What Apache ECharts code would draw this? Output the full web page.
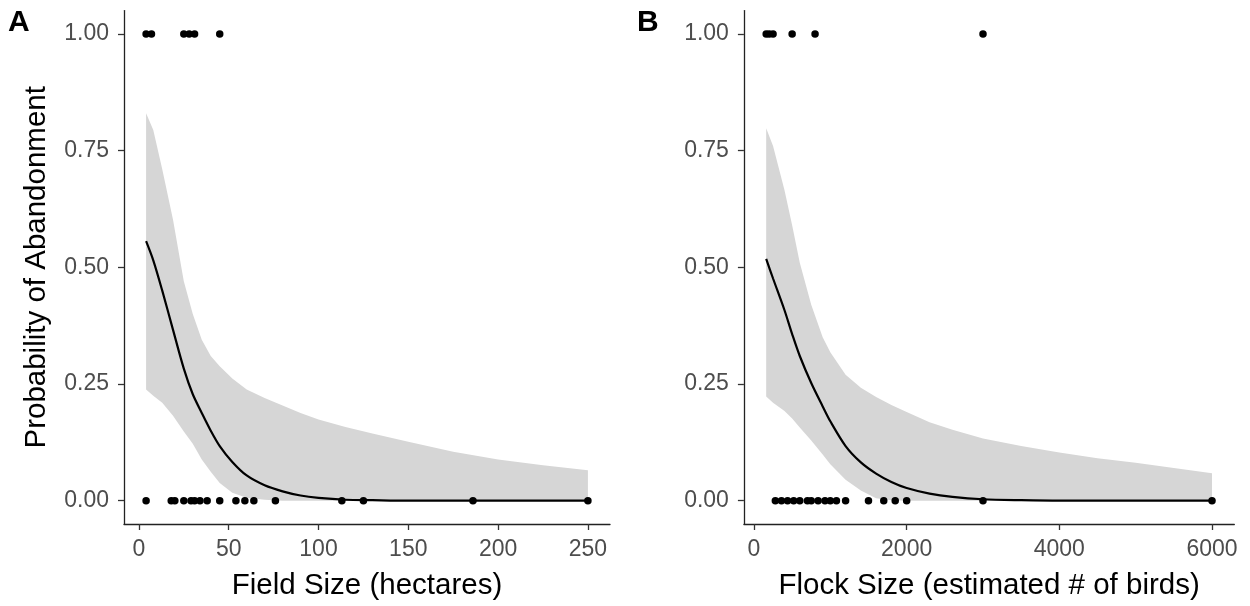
<!DOCTYPE html>
<html><head><meta charset="utf-8">
<script src="https://cdn.jsdelivr.net/npm/echarts@6/dist/echarts.min.js"></script>
<style>html,body{margin:0;padding:0;background:#fff}#c{width:1250px;height:606px}</style>
</head><body><div id="c"></div>
<script>
// ---- Panel A: Field size (hectares) ----
const fieldX     = [4, 8, 13, 19, 25, 30, 35, 40, 45, 52, 60, 70, 80, 90, 100, 115, 130, 150, 175, 200, 225, 250];
const fieldFit   = [0.556, 0.515, 0.450, 0.366, 0.283, 0.228, 0.188, 0.150, 0.117, 0.083, 0.054, 0.033, 0.020, 0.011, 0.006, 0.002, 0.001, 0, 0, 0, 0, 0];
const fieldUpper = [0.830, 0.794, 0.710, 0.602, 0.470, 0.400, 0.345, 0.310, 0.288, 0.262, 0.238, 0.220, 0.204, 0.188, 0.174, 0.158, 0.144, 0.126, 0.105, 0.088, 0.076, 0.065];
const fieldLower = [0.238, 0.225, 0.210, 0.182, 0.148, 0.122, 0.088, 0.062, 0.038, 0.017, 0.006, 0.002, 0, 0, 0, 0, 0, 0, 0, 0, 0, 0];
const fieldAbandoned = [4, 7, 25, 28, 31, 45];
const fieldStayed    = [4, 18, 20, 25, 29, 31, 34, 38, 45, 54, 59, 64, 76, 113, 125, 186, 250];

// ---- Panel B: Flock size (estimated # of birds) ----
const flockX     = [160, 250, 400, 500, 600, 750, 900, 1000, 1200, 1400, 1600, 1800, 2000, 2300, 2600, 3000, 3500, 4000, 4500, 5000, 5500, 6000];
const flockFit   = [0.518, 0.476, 0.408, 0.357, 0.310, 0.252, 0.202, 0.170, 0.117, 0.082, 0.058, 0.040, 0.027, 0.015, 0.008, 0.003, 0.001, 0, 0, 0, 0, 0];
const flockUpper = [0.798, 0.760, 0.665, 0.590, 0.510, 0.420, 0.350, 0.318, 0.270, 0.242, 0.222, 0.205, 0.190, 0.168, 0.152, 0.133, 0.117, 0.103, 0.091, 0.081, 0.070, 0.059];
const flockLower = [0.223, 0.210, 0.192, 0.176, 0.157, 0.129, 0.099, 0.078, 0.045, 0.022, 0.005, 0.001, 0, 0, 0, 0, 0, 0, 0, 0, 0, 0];
const flockAbandoned = [160, 200, 250, 500, 800, 3000];
const flockStayed    = [280, 360, 440, 520, 600, 700, 750, 840, 930, 1000, 1080, 1200, 1500, 1700, 1850, 2000, 3000, 6000];

// ---- Ticks and labels ----
const yTicks = [0, 0.25, 0.5, 0.75, 1];
const fieldTicks = [0, 50, 100, 150, 200, 250];
const flockTicks = [0, 2000, 4000, 6000];
const panelLabels = ['A', 'B'];
const yTitle = 'Probability of Abandonment';
const xTitles = ['Field Size (hectares)', 'Flock Size (estimated # of birds)'];

const FONT = '"Liberation Sans", Arial, sans-serif';
const BAND = '#d6d6d6';

function range(xs) {
  const lo = Math.min.apply(null, xs), hi = Math.max.apply(null, xs);
  const pad = 0.05 * (hi - lo);
  return [lo - pad, hi + pad];
}
const fieldRange = range(fieldX.concat(fieldAbandoned, fieldStayed));
const flockRange = range(flockX.concat(flockAbandoned, flockStayed));

function xAxis(idx, r, ticks, title) {
  return {
    type: 'value', gridIndex: idx, min: r[0], max: r[1],
    name: title, nameLocation: 'middle', nameGap: 47,
    nameTextStyle: { fontFamily: FONT, fontSize: 29.5, color: '#000' },
    axisLine: { show: true, onZero: false, lineStyle: { color: '#222', width: 1.3 } },
    axisTick: { show: true, length: 6, customValues: ticks, lineStyle: { color: '#333', width: 1.3 } },
    axisLabel: { customValues: ticks, margin: 14, fontFamily: FONT, fontSize: 23, color: '#4d4d4d',
                 formatter: v => String(v) },
    splitLine: { show: false }
  };
}
function yAxis(idx, title) {
  return {
    type: 'value', gridIndex: idx, min: -0.05, max: 1.05,
    name: title || '', nameLocation: 'middle', nameGap: 72,
    nameTextStyle: { fontFamily: FONT, fontSize: 29.5, color: '#000' },
    axisLine: { show: true, onZero: false, lineStyle: { color: '#222', width: 1.3 } },
    axisTick: { show: true, length: 6, customValues: yTicks, lineStyle: { color: '#333', width: 1.3 } },
    axisLabel: { customValues: yTicks, margin: 15, fontFamily: FONT, fontSize: 23, color: '#4d4d4d',
                 formatter: v => v.toFixed(2) },
    splitLine: { show: false }
  };
}
function zip(xs, ys) { return xs.map((x, i) => [x, ys[i]]); }

function panelSeries(idx, xs, fit, upper, lower, ab, st) {
  return [
    { type: 'custom', xAxisIndex: idx, yAxisIndex: idx, silent: true, z: 1,
      data: [[xs[0], lower[0]]],
      renderItem: function (params, api) {
        const pts = [];
        for (let i = 0; i < xs.length; i++) pts.push(api.coord([xs[i], upper[i]]));
        for (let i = xs.length - 1; i >= 0; i--) pts.push(api.coord([xs[i], lower[i]]));
        return { type: 'polygon', shape: { points: pts }, style: { fill: BAND, stroke: null } };
      } },
    { type: 'line', xAxisIndex: idx, yAxisIndex: idx, data: zip(xs, fit), smooth: 0.3,
      showSymbol: false, symbol: 'none', lineStyle: { color: '#000', width: 2.2 }, z: 3 },
    { type: 'scatter', xAxisIndex: idx, yAxisIndex: idx,
      data: ab.map(x => [x, 1]).concat(st.map(x => [x, 0])),
      symbol: 'circle', symbolSize: 7.5, itemStyle: { color: '#000', opacity: 1 }, z: 4 }
  ];
}

const chart = echarts.init(document.getElementById('c'), null, { renderer: 'canvas' });
chart.setOption({
  animation: false,
  backgroundColor: '#fff',
  title: [
    { text: panelLabels[0], left: 8, top: 8, padding: 0, textStyle: { fontFamily: FONT, fontSize: 30, fontWeight: 'bold', color: '#000' } },
    { text: panelLabels[1], left: 637, top: 8, padding: 0, textStyle: { fontFamily: FONT, fontSize: 30, fontWeight: 'bold', color: '#000' } }
  ],
  grid: [
    { left: 124, top: 10.6, width: 486, height: 513.8 },
    { left: 743.9, top: 10.6, width: 490.4, height: 513.8 }
  ],
  xAxis: [xAxis(0, fieldRange, fieldTicks, xTitles[0]), xAxis(1, flockRange, flockTicks, xTitles[1])],
  yAxis: [yAxis(0, yTitle), yAxis(1, '')],
  series: panelSeries(0, fieldX, fieldFit, fieldUpper, fieldLower, fieldAbandoned, fieldStayed)
    .concat(panelSeries(1, flockX, flockFit, flockUpper, flockLower, flockAbandoned, flockStayed))
});
</script>
</body></html>
